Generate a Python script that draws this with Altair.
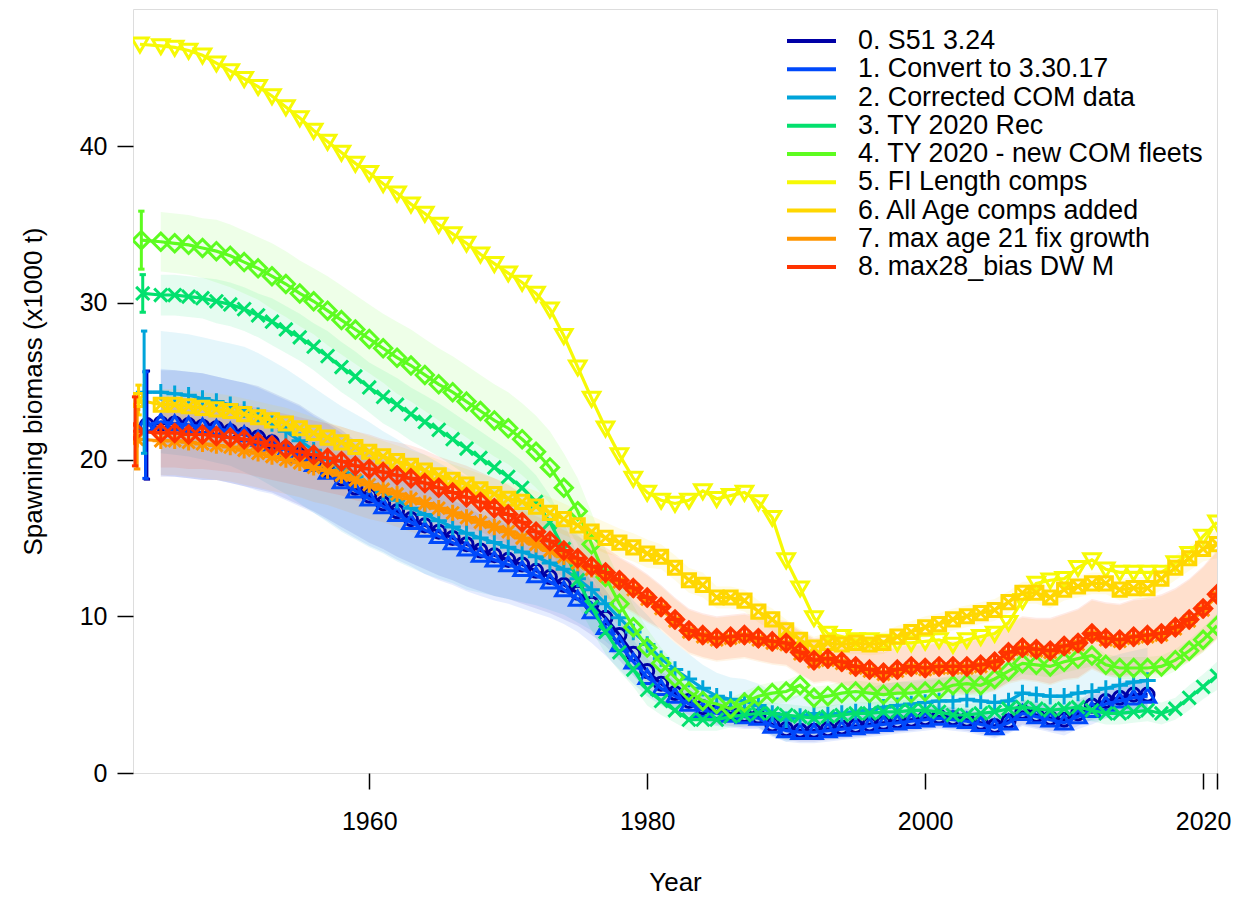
import altair as alt
import pandas as pd

labels = ["0. S51 3.24", "1. Convert to 3.30.17", "2. Corrected COM data", "3. TY 2020 Rec",
          "4. TY 2020 - new COM fleets", "5. FI Length comps", "6. All Age comps added",
          "7. max age 21 fix growth", "8. max28_bias DW M"]
colors = ["#0000A6", "#0049FB", "#00A4DA", "#03E06E", "#5DFC20",
          "#F6F905", "#FFD701", "#FF9500", "#FF3300"]

first_year = 1945
last_year = [2016, 2016, 2016, 2021, 2021, 2021, 2021, 2021, 2021]

# virgin (equilibrium) spawning biomass, plotted just before the time series
virgin_year = [1944.0, 1943.9, 1943.8, 1943.7, 1943.6, 1943.5, 1943.4, 1943.3, 1943.15]
virgin_val = [22.2, 22.2, 24.3, 30.6, 34.0, 46.5, 23.8, 21.3, 21.8]
virgin_hw = [3.45, 3.4, 3.9, 1.2, 1.85, None, 0.95, 1.9, 2.2]

ssb_0 = [22.3, 22.3, 22.2, 22.1, 22.0, 21.8, 21.6, 21.4, 21.1, 20.7,
         20.3, 19.8, 19.3, 18.8, 18.2, 17.7, 17.2, 16.7, 16.2, 15.8,
         15.4, 15.0, 14.6, 14.2, 13.9, 13.6, 13.3, 12.9, 12.5, 12.0,
         11.5, 10.8, 9.9, 8.8, 7.6, 6.5, 5.7, 5.1, 4.6, 4.2,
         3.9, 3.8, 3.7, 3.6, 3.1, 2.8, 2.7, 2.7, 2.8, 2.9,
         3.0, 3.1, 3.2, 3.3, 3.4, 3.5, 3.6, 3.5, 3.4, 3.2,
         3.0, 3.3, 3.9, 3.7, 3.5, 3.4, 3.8, 4.3, 4.6, 4.8,
         5.0, 5.0]
ssb_1 = [22.4, 22.3, 22.2, 22.1, 22.0, 21.8, 21.6, 21.3, 21.0, 20.6,
         20.2, 19.7, 19.2, 18.6, 18.0, 17.5, 17.0, 16.5, 16.0, 15.5,
         15.1, 14.7, 14.3, 13.9, 13.6, 13.3, 13.0, 12.6, 12.2, 11.7,
         11.1, 10.3, 9.3, 8.2, 7.1, 6.1, 5.4, 4.9, 4.4, 4.0,
         3.8, 3.7, 3.6, 3.5, 3.0, 2.7, 2.6, 2.6, 2.7, 2.8,
         2.9, 3.0, 3.1, 3.2, 3.3, 3.4, 3.5, 3.4, 3.3, 3.1,
         2.9, 3.2, 3.8, 3.6, 3.4, 3.2, 3.6, 4.0, 4.4, 4.6,
         4.8, 4.9]
ssb_2 = [24.3, 24.2, 24.1, 23.9, 23.7, 23.5, 23.2, 22.8, 22.3, 21.8,
         21.2, 20.6, 20.0, 19.4, 18.9, 18.4, 17.9, 17.4, 16.9, 16.5,
         16.1, 15.7, 15.3, 15.0, 14.7, 14.4, 14.1, 13.8, 13.4, 13.0,
         12.4, 11.7, 10.8, 9.9, 9.0, 8.2, 7.3, 6.6, 6.0, 5.4,
         4.9, 4.7, 4.6, 4.3, 3.8, 3.4, 3.6, 3.8, 3.7, 3.8,
         3.9, 4.0, 4.2, 4.3, 4.4, 4.5, 4.6, 4.6, 4.7, 4.6,
         4.5, 4.6, 5.1, 5.0, 4.9, 4.9, 5.1, 5.2, 5.4, 5.6,
         5.8, 5.9]
ssb_3 = [30.5, 30.5, 30.4, 30.3, 30.1, 29.9, 29.6, 29.2, 28.8, 28.3,
         27.8, 27.2, 26.6, 25.9, 25.3, 24.6, 24.0, 23.5, 22.9, 22.4,
         21.9, 21.3, 20.7, 20.1, 19.5, 18.9, 18.2, 17.3, 16.0, 14.3,
         12.3, 10.6, 9.0, 7.7, 6.6, 5.3, 4.6, 4.0, 3.4, 3.4,
         3.4, 3.6, 3.7, 3.8, 3.8, 3.7, 3.6, 3.5, 3.6, 3.7,
         3.8, 3.8, 3.9, 3.9, 4.0, 4.0, 3.9, 3.7, 3.7, 3.8,
         3.9, 4.1, 4.2, 4.1, 4.0, 4.1, 4.2, 4.0, 3.8, 3.8,
         3.9, 4.0, 3.8, 4.1, 4.8, 5.5, 6.2]
ssb_4 = [33.9, 33.8, 33.7, 33.5, 33.3, 33.0, 32.6, 32.2, 31.7, 31.2,
         30.6, 30.1, 29.5, 28.9, 28.3, 27.7, 27.1, 26.5, 26.0, 25.4,
         24.8, 24.3, 23.7, 23.1, 22.5, 22.0, 21.3, 20.5, 19.5, 18.2,
         16.7, 14.6, 12.5, 10.8, 9.3, 8.0, 7.0, 6.1, 5.2, 4.6,
         4.4, 4.1, 4.5, 4.9, 5.1, 5.2, 5.6, 4.8, 4.9, 5.1,
         5.2, 5.1, 5.0, 5.1, 5.1, 5.2, 5.3, 5.6, 5.7, 5.6,
         6.0, 6.5, 7.0, 6.9, 6.8, 7.1, 7.3, 7.5, 6.9, 6.7,
         6.7, 6.7, 6.8, 7.2, 7.8, 8.5, 9.4]
ssb_5 = [46.4, 46.3, 46.1, 45.8, 45.3, 44.8, 44.3, 43.8, 43.2, 42.5,
         41.8, 41.0, 40.3, 39.6, 38.9, 38.3, 37.6, 37.0, 36.3, 35.7,
         35.0, 34.4, 33.8, 33.1, 32.5, 31.9, 31.3, 30.6, 29.6, 27.9,
         25.9, 23.9, 22.0, 20.3, 18.8, 17.9, 17.4, 17.2, 17.4, 18.0,
         17.5, 17.7, 17.9, 17.3, 16.3, 13.6, 11.8, 9.9, 8.9, 8.7,
         8.5, 8.5, 8.4, 8.3, 8.3, 8.4, 8.5, 8.2, 8.5, 8.7,
         8.9, 9.6, 11.0, 12.1, 12.3, 12.4, 13.1, 13.6, 13.0, 12.8,
         12.8, 12.8, 12.8, 13.4, 14.0, 15.1, 16.0]
ssb_6 = [23.5, 23.5, 23.4, 23.3, 23.2, 23.1, 22.9, 22.7, 22.5, 22.3,
         22.0, 21.7, 21.4, 21.1, 20.8, 20.5, 20.2, 19.9, 19.6, 19.3,
         19.0, 18.7, 18.4, 18.1, 17.8, 17.5, 17.3, 17.0, 16.6, 16.2,
         15.8, 15.4, 15.0, 14.7, 14.4, 14.0, 13.8, 13.1, 12.3, 12.0,
         11.2, 11.2, 11.0, 10.3, 9.8, 9.1, 8.5, 8.0, 8.3, 8.2,
         8.3, 8.2, 8.3, 8.7, 9.0, 9.3, 9.5, 9.8, 10.0, 10.2,
         10.4, 10.9, 11.5, 11.5, 11.2, 11.7, 11.9, 12.1, 12.1, 11.7,
         11.8, 11.8, 12.4, 13.1, 13.7, 14.3, 14.6]
ssb_7 = [21.2, 21.2, 21.1, 21.0, 20.9, 20.8, 20.6, 20.4, 20.2, 20.0,
         19.8, 19.5, 19.3, 19.0, 18.7, 18.4, 18.1, 17.8, 17.5, 17.2,
         16.9, 16.6, 16.3, 16.0, 15.7, 15.4, 15.0, 14.6, 14.2, 13.8,
         13.4, 13.0, 12.6, 12.2, 11.7, 11.1, 10.5, 9.7, 9.0, 8.7,
         8.5, 8.6, 8.7, 8.5, 8.3, 8.2, 7.6, 7.1, 7.2, 7.0,
         6.7, 6.5, 6.3, 6.5, 6.7, 6.6, 6.7, 6.7, 6.7, 6.8,
         7.0, 7.6, 7.9, 7.8, 7.7, 8.0, 8.2, 8.8, 8.5, 8.4,
         8.6, 8.7, 8.8, 9.2, 9.7, 10.4, 11.3]
ssb_8 = [21.7, 21.7, 21.6, 21.6, 21.5, 21.4, 21.3, 21.1, 20.9, 20.7,
         20.5, 20.3, 20.1, 19.9, 19.6, 19.4, 19.2, 19.0, 18.8, 18.5,
         18.2, 17.9, 17.6, 17.3, 16.9, 16.5, 16.0, 15.4, 14.8, 14.2,
         13.7, 13.2, 12.8, 12.3, 11.8, 11.2, 10.6, 9.8, 9.1, 8.8,
         8.6, 8.7, 8.8, 8.6, 8.4, 8.3, 7.7, 7.2, 7.3, 7.1,
         6.8, 6.6, 6.4, 6.6, 6.8, 6.7, 6.8, 6.8, 6.8, 6.9,
         7.1, 7.7, 8.0, 7.9, 7.8, 8.1, 8.3, 8.9, 8.6, 8.5,
         8.7, 8.8, 8.9, 9.3, 9.8, 10.5, 11.4]

# half-width of the 95% interval, per year (None = no interval shown)
ci_0 = [3.4, 3.4, 3.4, 3.4, 3.3, 3.3, 3.3, 3.3, 3.2, 3.2,
        3.2, 3.1, 3.1, 3.1, 3.0, 3.0, 2.9, 2.9, 2.8, 2.8,
        2.8, 2.7, 2.7, 2.6, 2.6, 2.5, 2.5, 2.4, 2.3, 2.2,
        2.1, 2.0, 1.8, 1.6, 1.4, 1.2, 1.1, 1.0, 0.9, 0.8,
        0.8, 0.8, 0.8, 0.7, 0.7, 0.7, 0.7, 0.7, 0.7, 0.7,
        0.7, 0.7, 0.7, 0.7, 0.7, 0.7, 0.7, 0.7, 0.7, 0.7,
        0.7, 0.7, 0.8, 0.8, 0.8, 0.8, 0.8, 0.9, 0.9, 1.0,
        1.0, 1.0]
ci_1 = [3.4, 3.4, 3.4, 3.4, 3.3, 3.3, 3.3, 3.3, 3.2, 3.2,
        3.2, 3.1, 3.1, 3.1, 3.0, 3.0, 2.9, 2.9, 2.8, 2.8,
        2.8, 2.7, 2.7, 2.6, 2.6, 2.5, 2.5, 2.4, 2.3, 2.2,
        2.1, 2.0, 1.8, 1.6, 1.4, 1.2, 1.1, 1.0, 0.9, 0.8,
        0.8, 0.8, 0.8, 0.7, 0.7, 0.7, 0.7, 0.7, 0.7, 0.7,
        0.7, 0.7, 0.7, 0.7, 0.7, 0.7, 0.7, 0.7, 0.7, 0.7,
        0.7, 0.7, 0.8, 0.8, 0.8, 0.8, 0.8, 0.9, 0.9, 1.0,
        1.0, 1.0]
ci_2 = [3.9, 3.9, 3.9, 3.9, 3.9, 3.9, 4.0, 4.0, 4.0, 4.0,
        4.0, 4.0, 4.0, 4.0, 4.0, 4.0, 3.9, 3.9, 3.8, 3.8,
        3.7, 3.6, 3.6, 3.5, 3.4, 3.3, 3.2, 3.1, 3.0, 2.9,
        2.8, 2.6, 2.4, 2.2, 2.0, 1.9, 1.8, 1.7, 1.6, 1.5,
        1.5, 1.4, 1.4, 1.4, 1.4, 1.4, 1.4, 1.4, 1.4, 1.4,
        1.4, 1.4, 1.5, 1.5, 1.5, 1.5, 1.5, 1.5, 1.6, 1.6,
        1.6, 1.6, 1.7, 1.7, 1.7, 1.8, 1.8, 1.9, 1.9, 2.0,
        2.0, 2.1]
ci_3 = [1.3, 1.3, 1.3, 1.3, 1.4, 1.4, 1.4, 1.4, 1.5, 1.5,
        1.5, 1.5, 1.6, 1.6, 1.6, 1.6, 1.7, 1.7, 1.7, 1.7,
        1.7, 1.7, 1.7, 1.7, 1.7, 1.7, 1.7, 1.7, 1.7, 1.7,
        1.6, 1.5, 1.4, 1.2, 1.1, 1.0, 0.9, 0.8, 0.7, 0.7,
        0.7, 0.7, 0.7, 0.7, 0.7, 0.7, 0.7, 0.7, 0.7, 0.7,
        0.7, 0.7, 0.7, 0.7, 0.7, 0.7, 0.7, 0.7, 0.7, 0.7,
        0.7, 0.7, 0.7, 0.7, 0.7, 0.7, 0.7, 0.7, 0.7, 0.7,
        0.7, 0.7, 0.7, 0.7, 0.8, 0.8, 0.9]
ci_4 = [1.9, 1.9, 1.9, 1.9, 2.0, 2.0, 2.0, 2.0, 2.1, 2.1,
        2.1, 2.1, 2.2, 2.2, 2.2, 2.2, 2.2, 2.3, 2.3, 2.3,
        2.3, 2.3, 2.3, 2.3, 2.3, 2.3, 2.3, 2.3, 2.3, 2.2,
        2.1, 2.0, 1.8, 1.6, 1.4, 1.2, 1.0, 0.9, 0.8, 0.8,
        0.7, 0.7, 0.7, 0.7, 0.7, 0.7, 0.7, 0.7, 0.7, 0.7,
        0.7, 0.7, 0.7, 0.7, 0.7, 0.7, 0.7, 0.7, 0.7, 0.7,
        0.7, 0.7, 0.7, 0.7, 0.7, 0.7, 0.7, 0.7, 0.7, 0.7,
        0.7, 0.7, 0.7, 0.7, 0.7, 0.8, 0.8]
ci_5 = None
ci_6 = [1.0, 1.0, 1.0, 1.0, 1.0, 1.0, 1.0, 1.0, 1.0, 1.0,
        1.0, 1.0, 1.0, 1.0, 1.0, 1.0, 1.0, 1.0, 1.0, 1.0,
        1.0, 1.0, 1.0, 1.0, 1.0, 1.0, 1.0, 1.0, 1.0, 1.0,
        1.0, 1.0, 1.0, 0.9, 0.9, 0.9, 0.8, 0.8, 0.8, 0.8,
        0.7, 0.7, 0.7, 0.7, 0.7, 0.7, 0.7, 0.7, 0.7, 0.7,
        0.7, 0.7, 0.7, 0.7, 0.7, 0.7, 0.7, 0.7, 0.7, 0.7,
        0.7, 0.7, 0.7, 0.7, 0.7, 0.7, 0.7, 0.7, 0.7, 0.7,
        0.7, 0.7, 0.7, 0.8, 0.8, 0.8, 0.9]
ci_7 = [2.2, 2.2, 2.2, 2.2, 2.2, 2.2, 2.2, 2.2, 2.2, 2.2,
        2.2, 2.2, 2.2, 2.2, 2.2, 2.2, 2.1, 2.1, 2.1, 2.1,
        2.0, 2.0, 2.0, 1.9, 1.9, 1.9, 1.8, 1.8, 1.8, 1.7,
        1.7, 1.6, 1.6, 1.5, 1.5, 1.5, 1.4, 1.4, 1.4, 1.4,
        1.4, 1.4, 1.4, 1.4, 1.4, 1.4, 1.4, 1.4, 1.4, 1.4,
        1.4, 1.4, 1.4, 1.5, 1.5, 1.5, 1.6, 1.6, 1.7, 1.7,
        1.8, 1.9, 2.0, 2.0, 2.1, 2.1, 2.2, 2.2, 2.3, 2.3,
        2.4, 2.4, 2.5, 2.5, 2.6, 2.7, 2.8]
ci_8 = [2.2, 2.2, 2.2, 2.2, 2.2, 2.2, 2.2, 2.2, 2.2, 2.2,
        2.2, 2.2, 2.2, 2.2, 2.2, 2.2, 2.1, 2.1, 2.1, 2.1,
        2.0, 2.0, 2.0, 1.9, 1.9, 1.9, 1.8, 1.8, 1.8, 1.7,
        1.7, 1.6, 1.6, 1.5, 1.5, 1.5, 1.4, 1.4, 1.4, 1.4,
        1.4, 1.4, 1.4, 1.4, 1.4, 1.4, 1.4, 1.4, 1.4, 1.4,
        1.4, 1.4, 1.4, 1.5, 1.5, 1.5, 1.6, 1.6, 1.7, 1.7,
        1.8, 1.9, 2.0, 2.0, 2.1, 2.1, 2.2, 2.2, 2.3, 2.3,
        2.4, 2.4, 2.5, 2.5, 2.6, 2.7, 2.8]

ssb = [ssb_0, ssb_1, ssb_2, ssb_3, ssb_4, ssb_5, ssb_6, ssb_7, ssb_8]
ci = [ci_0, ci_1, ci_2, ci_3, ci_4, ci_5, ci_6, ci_7, ci_8]

# point symbols (R pch 1..9), unit-size SVG paths
shapes = [
    "circle",
    "M0,-0.95L1,0.75L-1,0.75Z",
    "M-1,0L1,0M0,-1L0,1",
    "M-0.8,-0.8L0.8,0.8M-0.8,0.8L0.8,-0.8",
    "M0,-1.05L1.05,0L0,1.05L-1.05,0Z",
    "M0,0.95L1,-0.75L-1,-0.75Z",
    "M-0.8,-0.8L0.8,-0.8L0.8,0.8L-0.8,0.8ZM-0.8,-0.8L0.8,0.8M-0.8,0.8L0.8,-0.8",
    "M-1,0L1,0M0,-1L0,1M-0.75,-0.75L0.75,0.75M-0.75,0.75L0.75,-0.75",
    "M0,-1.05L1.05,0L0,1.05L-1.05,0ZM-1.05,0L1.05,0M0,-1.05L0,1.05",
]

FONT = "Liberation Sans"
W, H = 1084, 764

xscale = alt.Scale(domain=[1943, 2021], nice=False, zero=False)
yscale = alt.Scale(domain=[0, 48.75], nice=False, zero=False)
xaxis = alt.Axis(values=[1960, 1980, 2000, 2020, 2021], format="d",
                 labelExpr="datum.value > 2020 ? '' : datum.label",
                 title="Year", grid=False, domain=False, tickSize=16, tickWidth=1.5,
                 tickColor="black", labelFontSize=25, labelFont=FONT, labelColor="black",
                 labelPadding=20, labelFlush=False, labelOverlap=False,
                 titleFont=FONT, titleFontSize=26, titleFontWeight="normal", titleColor="black",
                 titleX=W / 2, titleY=109, titleBaseline="middle", titleAlign="center")
yaxis = alt.Axis(values=[0, 10, 20, 30, 40], format="d",
                 title="Spawning biomass (x1000 t)", grid=False, domain=False,
                 tickSize=16, tickWidth=1.5, tickColor="black", labelFontSize=25,
                 labelFont=FONT, labelColor="black", labelPadding=10,
                 titleFont=FONT, titleFontSize=26, titleFontWeight="normal", titleColor="black",
                 titleX=-100, titleY=H / 2, titleAngle=270, titleBaseline="middle",
                 titleAlign="center")


def X(field):
    return alt.X(field, type="quantitative", scale=xscale, axis=xaxis)


def Y(field):
    return alt.Y(field, type="quantitative", scale=yscale, axis=yaxis)


series_frames = []
band_frames = []
virgin_frames = []
for i in range(9):
    yrs = list(range(first_year, last_year[i] + 1))
    vals = ssb[i]
    sdf = pd.DataFrame({"year": [virgin_year[i]] + yrs, "val": [virgin_val[i]] + vals})
    series_frames.append(sdf)
    if ci[i] is not None:
        band_frames.append(pd.DataFrame({
            "year": yrs,
            "lo": [v - h for v, h in zip(vals, ci[i])],
            "hi": [v + h for v, h in zip(vals, ci[i])],
        }))
    else:
        band_frames.append(None)
    if virgin_hw[i] is not None:
        virgin_frames.append(pd.DataFrame({
            "year": [virgin_year[i]],
            "val": [virgin_val[i]],
            "lo": [virgin_val[i] - virgin_hw[i]],
            "hi": [virgin_val[i] + virgin_hw[i]],
        }))
    else:
        virgin_frames.append(None)

layers = []
for i in range(9):
    if band_frames[i] is not None:
        layers.append(
            alt.Chart(band_frames[i]).mark_area(color=colors[i], opacity=0.1, clip=True)
            .encode(x=X("year"), y=Y("lo"), y2="hi")
        )

for i in range(9):
    layers.append(
        alt.Chart(series_frames[i]).mark_line(color=colors[i], strokeWidth=3.2, clip=True)
        .encode(x=X("year"), y=Y("val"))
    )
    size = 170 if shapes[i] == "circle" else 270
    layers.append(
        alt.Chart(series_frames[i]).mark_point(shape=shapes[i], color=colors[i], filled=False,
                                               strokeWidth=3, size=size, opacity=1, clip=True)
        .encode(x=X("year"), y=Y("val"))
    )

for i in range(9):
    if virgin_frames[i] is not None:
        layers.append(
            alt.Chart(virgin_frames[i]).mark_rule(color=colors[i], strokeWidth=3)
            .encode(x=X("year"), y=Y("lo"), y2="hi")
        )
        layers.append(
            alt.Chart(virgin_frames[i]).mark_point(shape="M-1,0L1,0", color=colors[i], filled=False,
                                                   strokeWidth=3, size=40, opacity=1)
            .encode(x=X("year"), y=Y("lo"))
        )
        layers.append(
            alt.Chart(virgin_frames[i]).mark_point(shape="M-1,0L1,0", color=colors[i], filled=False,
                                                   strokeWidth=3, size=40, opacity=1)
            .encode(x=X("year"), y=Y("hi"))
        )

legend_df = pd.DataFrame({"label": labels, "color": colors, "row": list(range(9))})
legend_base = alt.Chart(legend_df).transform_calculate(ly="32 + 28.25 * datum.row")
layers.append(
    legend_base.mark_rule(strokeWidth=4).encode(
        x=alt.value(654), x2=alt.value(703),
        y=alt.Y("ly:Q", scale=None, axis=None),
        color=alt.Color("color:N", scale=None, legend=None),
    )
)
layers.append(
    legend_base.mark_text(align="left", baseline="middle", font=FONT, fontSize=26.8,
                          color="black").encode(
        x=alt.value(725),
        y=alt.Y("ly:Q", scale=None, axis=None),
        text="label:N",
    )
)

chart = alt.layer(*layers).properties(
    width=W, height=H,
    autosize=alt.AutoSizeParams(type="none"),
    padding={"left": 125, "top": 1, "right": 15, "bottom": 122},
).configure_view(stroke="black", strokeWidth=2).configure(background="white")

chart.save("out.html", embed_options={"renderer": "svg", "actions": False})
